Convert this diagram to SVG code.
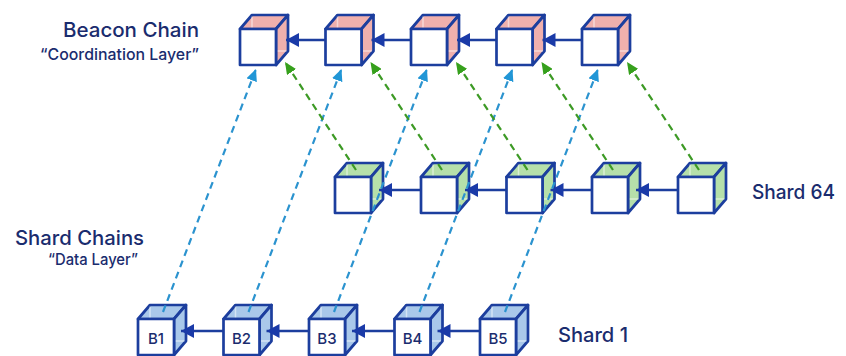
<svg xmlns="http://www.w3.org/2000/svg" xmlns:xlink="http://www.w3.org/1999/xlink" width="846" height="356" viewBox="0 0 846 356">
  <style>
    .face { fill: currentColor; stroke: #1c3e9e; stroke-width: 2.7; stroke-linejoin: round; }
    .front { fill: #ffffff; stroke: #1c3e9e; stroke-width: 2.7; stroke-linejoin: round; }
    .hidden { fill: none; stroke: #ffffff; stroke-opacity: 0.5; stroke-width: 1.5; }
    .beacon { color: #f0b0ad; }
    .shard64 { color: #b6e0aa; }
    .shard1 { color: #a9c8ea; }
    .title { font-family: Inter, "Liberation Sans", sans-serif; font-weight: 500; font-size: 20px; fill: #1a2c6e; }
    .sub { font-family: Inter, "Liberation Sans", sans-serif; font-weight: 500; font-size: 16px; fill: #1a2c6e; }
    .blabel { font-family: Inter, "Liberation Sans", sans-serif; font-weight: 500; font-size: 15px; fill: #1a2c6e; text-anchor: middle; }
    .link { stroke: #1c3e9e; stroke-width: 2.5; fill: none; marker-end: url(#headNavy); }
    .data { stroke: #2b93cf; stroke-width: 2.2; stroke-dasharray: 7 5; fill: none; marker-end: url(#headBlue); }
    .coord { stroke: #3d9a25; stroke-width: 2.2; stroke-dasharray: 7 5; fill: none; marker-end: url(#headGreen); }
  </style>
  <defs>
    <!-- translucent-looking cube: front face 36x36, depth offset (12,-14) -->
    <g id="cube">
      <polygon class="face" points="0,0 12,-14 48,-14 36,0"/>
      <polygon class="face" points="36,0 48,-14 48,22 36,36"/>
      <path class="hidden" d="M12,-12.5 V-1.5 M37.5,22 H46.5"/>
      <rect class="front" x="0" y="0" width="36" height="36"/>
    </g>
    <marker id="headNavy" markerUnits="userSpaceOnUse" markerWidth="13" markerHeight="14" refX="13" refY="7" orient="auto">
      <path d="M0,0 L13,7 L0,14 Z" fill="#1a3aa8"/>
    </marker>
    <marker id="headBlue" markerUnits="userSpaceOnUse" markerWidth="12" markerHeight="11" refX="12" refY="5.5" orient="auto">
      <path d="M0,0 L12,5.5 L0,11 Z" fill="#2196d6"/>
    </marker>
    <marker id="headGreen" markerUnits="userSpaceOnUse" markerWidth="12" markerHeight="11" refX="12" refY="5.5" orient="auto">
      <path d="M0,0 L12,5.5 L0,11 Z" fill="#36a01c"/>
    </marker>
  </defs>

  <rect width="846" height="356" fill="#ffffff"/>

  <!-- labels -->
  <g id="labels">
    <text class="title" x="63" y="37" textLength="136" lengthAdjust="spacingAndGlyphs">Beacon Chain</text>
    <text class="sub" x="40" y="60" textLength="159" lengthAdjust="spacingAndGlyphs">“Coordination Layer”</text>
    <text class="title" x="15" y="245" textLength="129" lengthAdjust="spacingAndGlyphs">Shard Chains</text>
    <text class="sub" x="48" y="265" textLength="90" lengthAdjust="spacingAndGlyphs">“Data Layer”</text>
    <text class="title" x="752" y="199" textLength="83" lengthAdjust="spacingAndGlyphs">Shard 64</text>
    <text class="title" x="558" y="342" textLength="70" lengthAdjust="spacingAndGlyphs">Shard 1</text>
  </g>

  <!-- beacon chain blocks -->
  <g id="beacon-1" class="beacon"><use href="#cube" x="240" y="29"/></g>
  <g id="beacon-2" class="beacon"><use href="#cube" x="325.5" y="29"/></g>
  <g id="beacon-3" class="beacon"><use href="#cube" x="411" y="29"/></g>
  <g id="beacon-4" class="beacon"><use href="#cube" x="496.5" y="29"/></g>
  <g id="beacon-5" class="beacon"><use href="#cube" x="582" y="29"/></g>

  <!-- shard 64 blocks -->
  <g id="shard64-1" class="shard64"><use href="#cube" x="335" y="177"/></g>
  <g id="shard64-2" class="shard64"><use href="#cube" x="421" y="177"/></g>
  <g id="shard64-3" class="shard64"><use href="#cube" x="506.5" y="177"/></g>
  <g id="shard64-4" class="shard64"><use href="#cube" x="592" y="177"/></g>
  <g id="shard64-5" class="shard64"><use href="#cube" x="678" y="177"/></g>

  <!-- shard 1 blocks -->
  <g id="shard1-b1" class="shard1"><use href="#cube" x="138" y="319"/><text class="blabel" x="156" y="344">B1</text></g>
  <g id="shard1-b2" class="shard1"><use href="#cube" x="223.5" y="319"/><text class="blabel" x="241.5" y="344">B2</text></g>
  <g id="shard1-b3" class="shard1"><use href="#cube" x="309" y="319"/><text class="blabel" x="327" y="344">B3</text></g>
  <g id="shard1-b4" class="shard1"><use href="#cube" x="394.5" y="319"/><text class="blabel" x="412.5" y="344">B4</text></g>
  <g id="shard1-b5" class="shard1"><use href="#cube" x="480" y="319"/><text class="blabel" x="498" y="344">B5</text></g>

  <g id="connectors">
    <!-- chain links: each block points back to its parent -->
    <line class="link" x1="325.5" y1="40" x2="286" y2="40"/>
    <line class="link" x1="411" y1="40" x2="371.5" y2="40"/>
    <line class="link" x1="496.5" y1="40" x2="457" y2="40"/>
    <line class="link" x1="582" y1="40" x2="542.5" y2="40"/>

    <line class="link" x1="421" y1="190" x2="379" y2="190"/>
    <line class="link" x1="506.5" y1="190" x2="465" y2="190"/>
    <line class="link" x1="592" y1="190" x2="550.5" y2="190"/>
    <line class="link" x1="678" y1="190" x2="636" y2="190"/>

    <line class="link" x1="223.5" y1="331" x2="181" y2="331"/>
    <line class="link" x1="309" y1="331" x2="266.5" y2="331"/>
    <line class="link" x1="394.5" y1="331" x2="352" y2="331"/>
    <line class="link" x1="480" y1="331" x2="437.5" y2="331"/>

    <!-- shard 1 blocks cross-linked into the beacon chain -->
    <line class="data" x1="163" y1="312" x2="256" y2="69"/>
    <line class="data" x1="248.5" y1="312" x2="341.5" y2="69"/>
    <line class="data" x1="334" y1="312" x2="427" y2="69"/>
    <line class="data" x1="419.5" y1="312" x2="512.5" y2="69"/>
    <line class="data" x1="505" y1="312" x2="598" y2="69"/>

    <!-- shard 64 blocks cross-linked into the beacon chain -->
    <line class="coord" x1="356" y1="170" x2="285" y2="62"/>
    <line class="coord" x1="442" y1="170" x2="370.5" y2="62"/>
    <line class="coord" x1="527.5" y1="170" x2="456" y2="62"/>
    <line class="coord" x1="613" y1="170" x2="541.5" y2="62"/>
    <line class="coord" x1="699" y1="170" x2="627" y2="62"/>
  </g>
</svg>
